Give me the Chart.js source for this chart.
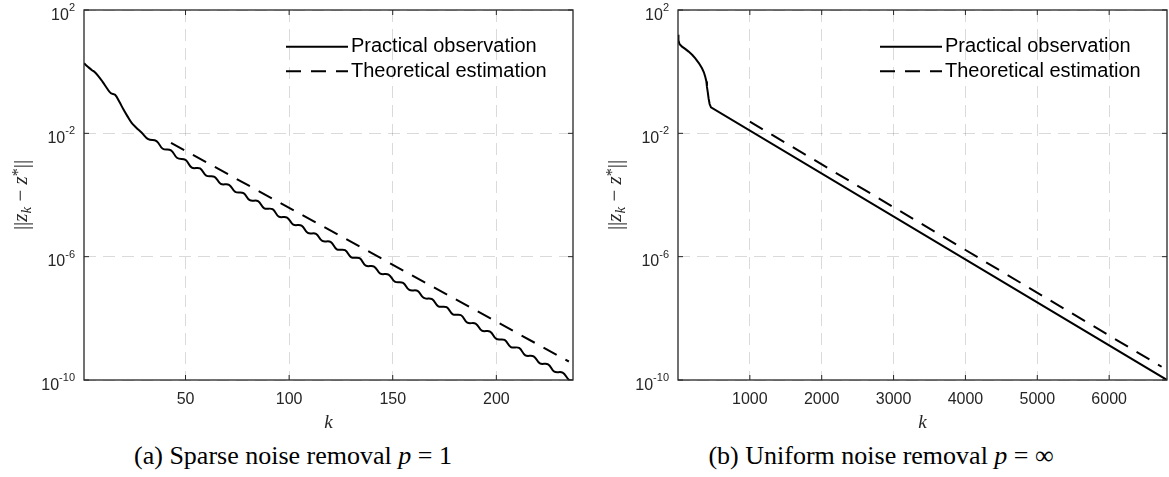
<!DOCTYPE html>
<html>
<head>
<meta charset="utf-8">
<script src="https://cdn.jsdelivr.net/npm/chart.js@4.4.1/dist/chart.umd.min.js"></script>
<style>
  body { margin: 0; background: #fff; width: 1169px; height: 477px; position: relative; overflow: hidden; }
  canvas { position: absolute; top: 0; }
  #chartA { left: 0; }
  #chartB { left: 585px; }
  .caption { position: absolute; top: 441px; transform: translateX(-50%); font-family: 'Liberation Serif', serif; font-size: 26px; line-height: 30px; white-space: nowrap; color: #000; }
</style>
</head>
<body>
<canvas id="chartA" width="585" height="440"></canvas>
<canvas id="chartB" width="584" height="440"></canvas>
<div class="caption" style="left:293px">(a) Sparse noise removal <i>p</i> = 1</div>
<div class="caption" style="left:881px">(b) Uniform noise removal <i>p</i> = ∞</div>

<script>
// (a) sparse noise removal, p = 1  -- values are log10 of ||z_k - z*||
const sparseK = [1, 3, 5, 6, 8, 10, 12, 14, 16, 18, 20, 22, 24, 26,
  29, 32, 36, 39, 43, 46, 50, 53, 57, 60, 64, 67, 71, 74, 78, 81, 85, 88, 92, 95,
  99, 102, 106, 109, 113, 116, 120, 123, 127, 130, 134, 137, 141, 144, 148, 151, 155, 158, 162, 165,
  169, 172, 176, 179, 183, 186, 190, 193, 197, 200, 204, 207, 211, 214, 218, 221, 225, 228, 232, 235, 237];
const sparseLog = [0.27, 0.15, 0.04, 0.0, -0.15, -0.33, -0.53, -0.70, -0.75, -0.97, -1.22, -1.45, -1.66, -1.80,
  -1.99, -2.19, -2.25, -2.50, -2.55, -2.80, -2.86, -3.11, -3.14, -3.37, -3.41, -3.64, -3.67, -3.90, -3.94, -4.17, -4.20, -4.43, -4.46, -4.70,
  -4.73, -4.96, -4.99, -5.23, -5.26, -5.49, -5.52, -5.76, -5.79, -6.02, -6.05, -6.29, -6.32, -6.55, -6.58, -6.81, -6.85, -7.08, -7.11, -7.34,
  -7.38, -7.61, -7.64, -7.87, -7.90, -8.14, -8.17, -8.40, -8.43, -8.67, -8.70, -8.93, -8.96, -9.20, -9.23, -9.46, -9.49, -9.73, -9.76, -9.99, -10.03];
const sparseTheoryK = [43, 235];
const sparseTheoryLog = [-2.31, -9.40];
const sparseXTicks = [50, 100, 150, 200];

// (b) uniform noise removal, p = inf
const uniformK = [0, 6, 20, 56, 100, 148, 200, 241, 290, 334, 360, 380, 395, 403, 415, 426, 440, 459, 6805];
const uniformLog = [1.2, 1.02, 0.9, 0.81, 0.74, 0.65, 0.54, 0.43, 0.28, 0.11, -0.02, -0.17, -0.32, -0.49, -0.68, -0.87, -1.05, -1.16, -10.0];
const uniformTheoryK = [1000, 6730];
const uniformTheoryLog = [-1.62, -9.57];
const uniformXTicks = [1000, 2000, 3000, 4000, 5000, 6000];

// shared
const yTicks = [1e2, 1e-2, 1e-6, 1e-10];
const yTickExps = ['2', '-2', '-6', '-10'];
const seriesLabels = ['Practical observation', 'Theoretical estimation'];

const axisColor = '#262626';
const gridColor = 'rgba(38,38,38,0.17)';
const sansFont = "'Liberation Sans', Arial, sans-serif";
const serifFont = "'Liberation Serif', 'DejaVu Serif', serif";

function toPoints(ks, logs) {
  return ks.map((k, i) => ({ x: k, y: Math.pow(10, logs[i]) }));
}

// box, inner tick marks, 10^n labels and the y title
const framePlugin = {
  id: 'frame',
  afterDraw(chart) {
    const ctx = chart.ctx;
    const a = chart.chartArea;
    const xs = chart.scales.x;
    const ys = chart.scales.y;
    ctx.save();
    ctx.strokeStyle = axisColor;
    ctx.lineWidth = 1;
    ctx.beginPath();
    xs.ticks.forEach(t => {
      const px = xs.getPixelForValue(t.value);
      ctx.moveTo(px, a.bottom); ctx.lineTo(px, a.bottom - 5);
      ctx.moveTo(px, a.top); ctx.lineTo(px, a.top + 5);
    });
    ys.ticks.forEach(t => {
      const py = ys.getPixelForValue(t.value);
      ctx.moveTo(a.left, py); ctx.lineTo(a.left + 5, py);
      ctx.moveTo(a.right, py); ctx.lineTo(a.right - 5, py);
    });
    ctx.stroke();
    ctx.lineWidth = 1.3;
    ctx.strokeRect(a.left, a.top, a.right - a.left, a.bottom - a.top);

    // y tick labels
    ctx.fillStyle = axisColor;
    ctx.textBaseline = 'alphabetic';
    ctx.textAlign = 'left';
    yTicks.forEach((v, i) => {
      const py = ys.getPixelForValue(v);
      ctx.font = '11px ' + sansFont;
      const expW = ctx.measureText(yTickExps[i]).width;
      ctx.font = '16px ' + sansFont;
      const baseW = ctx.measureText('10').width;
      const right = a.left - 9;
      ctx.fillText('10', right - expW - baseW, py + 9.5);
      ctx.font = '11px ' + sansFont;
      ctx.fillText(yTickExps[i], right - expW, py + 1);
    });

    // y title ||z_k - z*||
    const bars = "21px 'Liberation Serif', serif";
    const parts = [
      [bars, '||', 1],
      ['italic 21px ' + serifFont, 'z', 0],
      ['italic 15px ' + serifFont, 'k', 4],
      ['21px ' + serifFont, ' \u2212 ', 0],
      ['italic 21px ' + serifFont, 'z', 0],
      ['16px ' + serifFont, '*', -4],
      [bars, '||', 1]
    ];
    let total = 0;
    parts.forEach(p => { ctx.font = p[0]; total += ctx.measureText(p[1]).width; });
    ctx.translate(a.left - 63, (a.top + a.bottom) / 2);
    ctx.rotate(-Math.PI / 2);
    let x = -total / 2;
    parts.forEach(p => {
      ctx.font = p[0];
      ctx.fillText(p[1], x, 6 + p[2]);
      x += ctx.measureText(p[1]).width;
    });
    ctx.restore();
  }
};

// legend in the upper right corner of the axes
const legendPlugin = {
  id: 'cornerLegend',
  afterDatasetsDraw(chart) {
    const ctx = chart.ctx;
    const a = chart.chartArea;
    const rows = [a.top + 36.7, a.top + 61.3];
    ctx.save();
    chart.data.datasets.forEach((ds, i) => {
      const y = rows[i];
      ctx.strokeStyle = ds.borderColor;
      ctx.lineWidth = ds.borderWidth;
      ctx.setLineDash(ds.borderDash || []);
      ctx.beginPath();
      ctx.moveTo(a.right - 287, y);
      ctx.lineTo(a.right - 225, y);
      ctx.stroke();
      ctx.setLineDash([]);
      ctx.fillStyle = '#000';
      ctx.font = '20px ' + sansFont;
      ctx.textBaseline = 'middle';
      ctx.fillText(ds.label, a.right - 222, y);
    });
    ctx.restore();
  }
};

function makeChart(id, cfg) {
  new Chart(document.getElementById(id), {
    type: 'line',
    data: {
      datasets: [{
        label: seriesLabels[0],
        data: toPoints(cfg.k, cfg.log),
        borderColor: '#000',
        borderWidth: 2,
        pointRadius: 0,
        tension: cfg.tension
      }, {
        label: seriesLabels[1],
        data: toPoints(cfg.theoryK, cfg.theoryLog),
        borderColor: '#000',
        borderWidth: 2,
        borderDash: [15, 10],
        pointRadius: 0,
        tension: 0
      }]
    },
    options: {
      responsive: false,
      animation: false,
      layout: { padding: { top: 10, left: 0, right: cfg.padRight, bottom: 0 } },
      plugins: { legend: { display: false }, tooltip: { enabled: false } },
      scales: {
        x: {
          type: 'linear',
          min: cfg.xmin,
          max: cfg.xmax,
          afterBuildTicks: s => { s.ticks = cfg.xTicks.map(v => ({ value: v })); },
          afterFit: s => { s.height = 60; },
          ticks: {
            color: axisColor,
            font: { family: sansFont, size: 16 },
            padding: 10,
            autoSkip: false,
            maxRotation: 0,
            callback: v => String(v)
          },
          grid: { color: gridColor, lineWidth: 1, drawTicks: false },
          border: { display: false, dash: [12, 7] },
          title: {
            display: true,
            text: 'k',
            color: axisColor,
            font: { family: serifFont, style: 'italic', size: 19, lineHeight: 1.2 },
            padding: { top: 0, bottom: 5.6 }
          }
        },
        y: {
          type: 'logarithmic',
          min: 1e-10,
          max: 1e2,
          afterBuildTicks: s => { s.ticks = yTicks.map(v => ({ value: v })); },
          afterFit: s => { s.width = cfg.yWidth; },
          ticks: { display: false },
          grid: { color: gridColor, lineWidth: 1, drawTicks: false },
          border: { display: false, dash: [12, 7] }
        }
      }
    },
    plugins: [legendPlugin, framePlugin]
  });
}

makeChart('chartA', {
  k: sparseK, log: sparseLog, theoryK: sparseTheoryK, theoryLog: sparseTheoryLog,
  xmin: 1, xmax: 237, xTicks: sparseXTicks, tension: 0.4, yWidth: 84, padRight: 12
});
makeChart('chartB', {
  k: uniformK, log: uniformLog, theoryK: uniformTheoryK, theoryLog: uniformTheoryLog,
  xmin: 0, xmax: 6805, xTicks: uniformXTicks, tension: 0, yWidth: 93, padRight: 2
});
</script>
</body>
</html>
